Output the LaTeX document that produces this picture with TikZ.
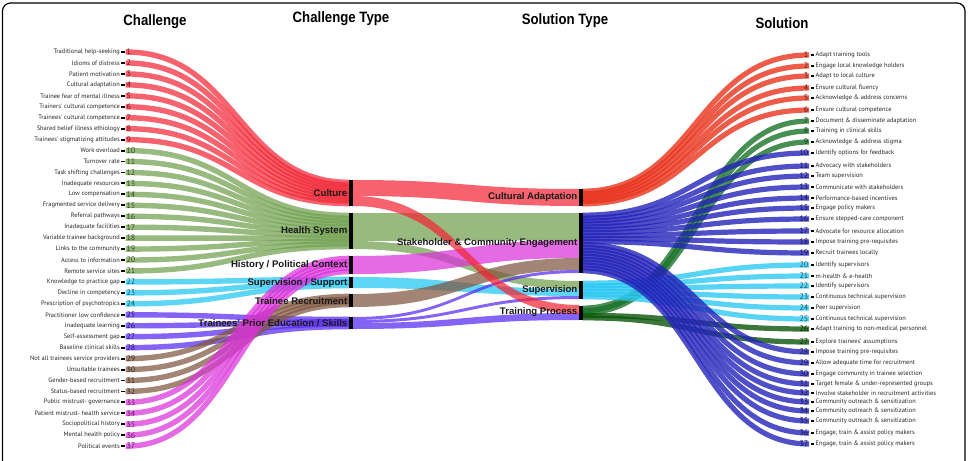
\documentclass[tikz,border=0pt]{standalone}
\usepackage{fontspec}
\usepackage{graphicx}
\setmainfont{Liberation Sans}
\newfontfamily\smallfont{PT Sans}
\definecolor{lRed}{RGB}{242,38,52}
\definecolor{lGreen}{RGB}{112,160,78}
\definecolor{lCyan}{RGB}{30,198,241}
\definecolor{lViolet}{RGB}{85,40,240}
\definecolor{lBrown}{RGB}{128,86,64}
\definecolor{lPink}{RGB}{218,50,218}
\definecolor{rRed}{RGB}{232,50,28}
\definecolor{rGreen}{RGB}{25,115,40}
\definecolor{rBlue}{RGB}{35,35,185}
\definecolor{rCyan}{RGB}{45,200,242}
\definecolor{rDkGreen}{RGB}{10,85,10}
\tikzset{
  ltxt/.style={font=\smallfont\fontsize{6.4}{7}\selectfont, inner sep=0pt, text=black!85},
  numtxt/.style={font=\smallfont\fontsize{8}{8}\selectfont, inner sep=0pt},
  dashmark/.style={fill=black, minimum width=3.4pt, minimum height=1.9pt, inner sep=0pt, draw=none},
  lrib/.style={line width=5.4pt, draw opacity=0.72},
  rrib/.style={line width=5.2pt, draw opacity=0.8},
  band/.style={fill opacity=0.72, draw=none},
  bar/.style={fill=black, minimum width=3.2pt, inner sep=0pt, draw=none},
  hdr/.style={font=\bfseries\fontsize{15}{16}\selectfont, inner sep=0pt},
  ttype/.style={font=\bfseries\fontsize{9.6}{10}\selectfont, inner sep=0pt, anchor=east, text=black!90},
}
\newcommand\chal[7]{%
  \pgfmathsetmacro\myY{52+10.95*(#1-1)}%
  \pgfmathsetmacro\myE{#4+2.4+(#6-1)*(#5-#4-4.8)/(#7-1)}%
  \node[ltxt,anchor=east] (ct#1) at (120,\myY) {#2};
  \node[dashmark] (cd#1) at (123,\myY) {};
  \coordinate (cs#1) at (125.6,\myY);
  \coordinate (ce#1) at (349.6,\myE);
  \draw[lrib,#3] (cs#1) .. controls +(112,0) and +(-112,0) .. (ce#1);
  \node[numtxt,anchor=west,text=#3!45!black] (cn#1) at (126.4,\myY) {#1};
}
\newcommand\sol[8]{%
  \pgfmathsetmacro\myE{#5+2.2+(#7-1)*(#6-#5-4.4)/(#8-1)}%
  \node[dashmark] (sd#1) at (812.3,#2) {};
  \node[ltxt,anchor=west] (st#1) at (815.5,#2) {#3};
  \coordinate (ss#1) at (582.6,\myE);
  \coordinate (se#1) at (809,#2);
  \draw[rrib,#4] (ss#1) .. controls +(113,0) and +(-113,0) .. (se#1);
  \node[numtxt,anchor=east,text=#4!45!black] (sn#1) at (808.5,#2) {#1};
}
\newcommand\band[6]{%
  \coordinate (#1lt) at (352.6,#3);
  \coordinate (#1lb) at (352.6,#4);
  \coordinate (#1rt) at (579.2,#5);
  \coordinate (#1rb) at (579.2,#6);
  \fill[band,#2] (#1lt) .. controls +(113,0) and +(-113,0) .. (#1rt) -- (#1rb) .. controls +(-113,0) and +(113,0) .. (#1lb) -- cycle;
}
\begin{document}
\begin{tikzpicture}[x=1pt,y=-1pt]
\useasboundingbox (0,0) rectangle (973,460);
\draw[line width=1.2pt, rounded corners=8pt] (2.5,490) -- (2.5,3) -- (965,3) -- (965,490);
% headers
\node[hdr] (h1) at (155,22) {\scalebox{0.88}[1]{Challenge}};
\node[hdr] (h2) at (341,19) {\scalebox{0.88}[1]{Challenge Type}};
\node[hdr] (h3) at (565,21) {\scalebox{0.88}[1]{Solution Type}};
\node[hdr] (h4) at (782,23) {\scalebox{0.88}[1]{Solution}};
% challenges
\chal{1}{Traditional help-seeking}{lRed}{180}{206}{1}{9}
\chal{2}{Idioms of distress}{lRed}{180}{206}{2}{9}
\chal{3}{Patient motivation}{lRed}{180}{206}{3}{9}
\chal{4}{Cultural adaptation}{lRed}{180}{206}{4}{9}
\chal{5}{Trainee fear of mental illness}{lRed}{180}{206}{5}{9}
\chal{6}{Trainers' cultural competence}{lRed}{180}{206}{6}{9}
\chal{7}{Trainees' cultural competence}{lRed}{180}{206}{7}{9}
\chal{8}{Shared belief illness ethiology}{lRed}{180}{206}{8}{9}
\chal{9}{Trainees' stigmatizing attitudes}{lRed}{180}{206}{9}{9}
\chal{10}{Work overload}{lGreen}{213}{249}{1}{12}
\chal{11}{Turnover rate}{lGreen}{213}{249}{2}{12}
\chal{12}{Task shifting challenges}{lGreen}{213}{249}{3}{12}
\chal{13}{Inadequate resources}{lGreen}{213}{249}{4}{12}
\chal{14}{Low compensation}{lGreen}{213}{249}{5}{12}
\chal{15}{Fragmented service delivery}{lGreen}{213}{249}{6}{12}
\chal{16}{Referral pathways}{lGreen}{213}{249}{7}{12}
\chal{17}{Inadequate facilities}{lGreen}{213}{249}{8}{12}
\chal{18}{Variable trainee background}{lGreen}{213}{249}{9}{12}
\chal{19}{Links to the community}{lGreen}{213}{249}{10}{12}
\chal{20}{Access to information}{lGreen}{213}{249}{11}{12}
\chal{21}{Remote service sites}{lGreen}{213}{249}{12}{12}
\chal{22}{Knowledge to practice gap}{lCyan}{277}{288}{1}{3}
\chal{23}{Decline in competency}{lCyan}{277}{288}{2}{3}
\chal{24}{Prescription of psychotropics}{lCyan}{277}{288}{3}{3}
\chal{25}{Practitioner low confidence}{lViolet}{317}{329}{1}{4}
\chal{26}{Inadequate learning}{lViolet}{317}{329}{2}{4}
\chal{27}{Self-assessment gap}{lViolet}{317}{329}{3}{4}
\chal{28}{Baseline clinical skills}{lViolet}{317}{329}{4}{4}
\chal{29}{Not all trainees service providers}{lBrown}{294}{307}{1}{4}
\chal{30}{Unsuitable trainees}{lBrown}{294}{307}{2}{4}
\chal{31}{Gender-based recruitment}{lBrown}{294}{307}{3}{4}
\chal{32}{Status-based recruitment}{lBrown}{294}{307}{4}{4}
\chal{33}{Public mistrust- governance}{lPink}{256}{274}{1}{5}
\chal{34}{Patient mistrust- health service}{lPink}{256}{274}{2}{5}
\chal{35}{Sociopolitical history}{lPink}{256}{274}{3}{5}
\chal{36}{Mental health policy}{lPink}{256}{274}{4}{5}
\chal{37}{Political events}{lPink}{256}{274}{5}{5}
% middle bands
\band{mA}{lGreen}{213}{241}{213}{240}
\band{mB}{lGreen}{241}{249}{281}{289}
\band{mC}{lPink}{256}{274}{240}{258}
\band{mD}{lCyan}{277}{288}{289}{296}
\band{mE}{lBrown}{294}{307}{258}{270}
\band{mF}{lViolet}{317}{320}{270}{273}
\band{mG}{lViolet}{320}{323}{296}{299}
\band{mH}{lViolet}{323}{329}{313}{320}
\band{mI}{lRed}{180}{196}{189}{206}
\band{mJ}{lRed}{196}{206}{305}{314}
% solutions
\sol{1}{55}{Adapt training tools}{rRed}{189}{206}{1}{6}
\sol{2}{66}{Engage local knowledge holders}{rRed}{189}{206}{2}{6}
\sol{3}{76}{Adapt to local culture}{rRed}{189}{206}{3}{6}
\sol{4}{88}{Ensure cultural fluency}{rRed}{189}{206}{4}{6}
\sol{5}{98}{Acknowledge \& address concerns}{rRed}{189}{206}{5}{6}
\sol{6}{110}{Ensure cultural competence}{rRed}{189}{206}{6}{6}
\sol{7}{121}{Document \& disseminate adaptation}{rGreen}{306}{320}{1}{5}
\sol{8}{131}{Training in clinical skills}{rGreen}{306}{320}{2}{5}
\sol{9}{142}{Acknowledge \& address stigma}{rGreen}{306}{320}{3}{5}
\sol{10}{153}{Identify options for feedback}{rBlue}{213}{273}{1}{20}
\sol{11}{166}{Advocacy with stakeholders}{rBlue}{213}{273}{2}{20}
\sol{12}{176}{Team supervision}{rBlue}{213}{273}{3}{20}
\sol{13}{187}{Communicate with stakeholders}{rBlue}{213}{273}{4}{20}
\sol{14}{198}{Performance-based incentives}{rBlue}{213}{273}{5}{20}
\sol{15}{208}{Engage policy makers}{rBlue}{213}{273}{6}{20}
\sol{16}{219}{Ensure stepped-care component}{rBlue}{213}{273}{7}{20}
\sol{17}{231}{Advocate for resource allocation}{rBlue}{213}{273}{8}{20}
\sol{18}{242}{Impose training pre-requisites}{rBlue}{213}{273}{9}{20}
\sol{19}{253}{Recruit trainees locally}{rBlue}{213}{273}{10}{20}
\sol{20}{265}{Identify supervisors}{rCyan}{281}{299}{1}{6}
\sol{21}{276}{m-health \& e-health}{rCyan}{281}{299}{2}{6}
\sol{22}{286}{Identify supervisors}{rCyan}{281}{299}{3}{6}
\sol{23}{297}{Continuous technical supervision}{rCyan}{281}{299}{4}{6}
\sol{24}{308}{Peer supervision}{rCyan}{281}{299}{5}{6}
\sol{25}{319}{Continuous technical supervision}{rCyan}{281}{299}{6}{6}
\sol{26}{329}{Adapt training to non-medical personnel}{rDkGreen}{306}{320}{4}{5}
\sol{27}{342}{Explore trainees' assumptions}{rDkGreen}{306}{320}{5}{5}
\sol{28}{352}{Impose training pre-requisites}{rBlue}{213}{273}{11}{20}
\sol{29}{363}{Allow adequate time for recruitment}{rBlue}{213}{273}{12}{20}
\sol{30}{374}{Engage community in trainee selection}{rBlue}{213}{273}{13}{20}
\sol{31}{384}{Target female \& under-represented groups}{rBlue}{213}{273}{14}{20}
\sol{32}{393}{Involve stakeholder in recruitment activities}{rBlue}{213}{273}{15}{20}
\sol{33}{402}{Community outreach \& sensitization}{rBlue}{213}{273}{16}{20}
\sol{34}{411}{Community outreach \& sensitization}{rBlue}{213}{273}{17}{20}
\sol{35}{421}{Community outreach \& sensitization}{rBlue}{213}{273}{18}{20}
\sol{36}{433}{Engage, train \& assist policy makers}{rBlue}{213}{273}{19}{20}
\sol{37}{444}{Engage, train \& assist policy makers}{rBlue}{213}{273}{20}{20}
% bars
\node[bar, minimum height=26pt] (bCul) at (351,193) {};
\node[bar, minimum height=36pt] (bHea) at (351,231) {};
\node[bar, minimum height=18pt] (bHis) at (351,265) {};
\node[bar, minimum height=11pt] (bSup) at (351,282.5) {};
\node[bar, minimum height=13pt] (bRec) at (351,300.5) {};
\node[bar, minimum height=12pt] (bEdu) at (351,323) {};
\node[bar, minimum height=17pt] (bCA) at (580.9,197.5) {};
\node[bar, minimum height=60pt] (bSCE) at (580.9,243) {};
\node[bar, minimum height=18pt] (bSV) at (580.9,290) {};
\node[bar, minimum height=14pt] (bTP) at (580.9,313) {};
% type labels
\node[ttype] (tCul) at (347.5,193) {Culture};
\node[ttype] (tHea) at (347.5,231) {Health System};
\node[ttype] (tHis) at (347.5,265) {History / Political Context};
\node[ttype] (tSup) at (347.5,283) {Supervision / Support};
\node[ttype] (tRec) at (347.5,301) {Trainee Recruitment};
\node[ttype] (tEdu) at (347.5,323) {Trainees' Prior Education / Skills};
\node[ttype] (tCA) at (577.5,197) {Cultural Adaptation};
\node[ttype] (tSCE) at (577.5,243) {Stakeholder \& Community Engagement};
\node[ttype] (tSV) at (577.5,290) {Supervision};
\node[ttype] (tTP) at (577.5,312) {Training Process};
\end{tikzpicture}
\end{document}
